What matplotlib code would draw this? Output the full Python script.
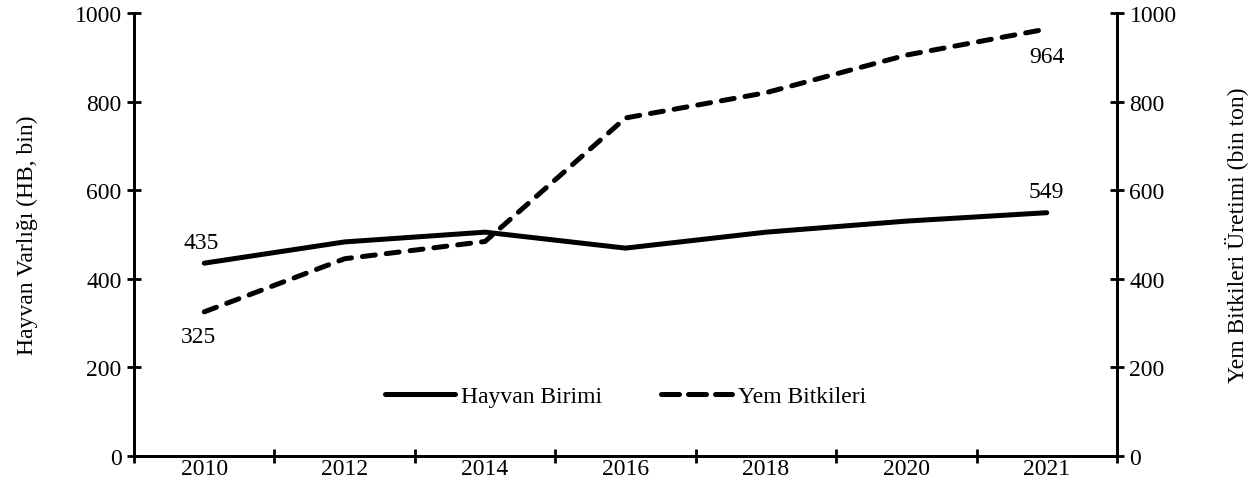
import matplotlib
matplotlib.use("Agg")
import matplotlib.pyplot as plt
from matplotlib.lines import Line2D

years = ["2010", "2012", "2014", "2016", "2018", "2020", "2021"]
hayvan = [435, 483, 505, 469, 505, 530, 549]
yem = [325, 445, 484, 763, 820, 905, 964]
yticks = [0, 200, 400, 600, 800, 1000]

plt.rcParams['font.family'] = ['Liberation Serif', 'DejaVu Serif']
fs = 17

fig = plt.figure(figsize=(12.54, 5.02), dpi=100)
ax = fig.add_axes([0.1069, 0.0902, 0.8907 - 0.1069, 0.972 - 0.0902])
ax2 = ax.twinx()

x = list(range(len(years)))
lw = 3.6
l1, = ax.plot(x, hayvan, color='black', lw=lw, solid_capstyle='round', solid_joinstyle='round', label='Hayvan Birimi')
l2, = ax2.plot(x, yem, color='black', lw=lw, linestyle=(0, (2.6, 2.2)), dash_capstyle='round', dash_joinstyle='round', label='Yem Bitkileri')

for a in (ax, ax2):
    a.set_ylim(0, 1000)
    a.set_yticks(yticks)
    a.tick_params(axis='y', direction='inout', length=10, width=2, labelsize=fs, pad=4)
    a.set_xlim(-0.5, len(years) - 0.5)
    for s in a.spines.values():
        s.set_linewidth(2)
    a.spines['top'].set_visible(False)

ax.set_xticks([i - 0.5 for i in range(len(years) + 1)])
ax.set_xticklabels([])
ax.set_xticks(x, minor=True)
ax.set_xticklabels(years, minor=True)
ax.tick_params(axis='x', which='major', direction='inout', length=10, width=2)
ax.tick_params(axis='x', which='minor', length=0, labelsize=fs, pad=2)

ax.set_ylabel("Hayvan Varlığı (HB, bin)", fontsize=fs, labelpad=26)
ax2.set_ylabel("Yem Bitkileri Üretimi (bin ton)", fontsize=fs, labelpad=34, rotation=90)

ax.annotate(str(hayvan[0]), (x[0], hayvan[0]), xytext=(-2, 7), textcoords='offset points', ha='center', va='bottom', fontsize=fs)
ax2.annotate(str(yem[0]), (x[0], yem[0]), xytext=(-4, -10), textcoords='offset points', ha='center', va='top', fontsize=fs)
ax.annotate(str(hayvan[-1]), (x[-1], hayvan[-1]), xytext=(0, 8), textcoords='offset points', ha='center', va='bottom', fontsize=fs)
ax2.annotate(str(yem[-1]), (x[-1], yem[-1]), xytext=(0, -12), textcoords='offset points', ha='center', va='top', fontsize=fs)

h1 = Line2D([], [], color='black', lw=lw, solid_capstyle='round')
h2 = Line2D([], [], color='black', lw=lw, linestyle=(0, (3.6, 1.8)), dash_capstyle='round')
leg = ax.legend(handles=[h1, h2], labels=['Hayvan Birimi', 'Yem Bitkileri'], loc='lower center',
                bbox_to_anchor=(0.5, 0.062), ncol=2, frameon=False,
                fontsize=fs, handlelength=3.0, handletextpad=0.25, columnspacing=2.5)

fig.savefig("out.png", dpi=100)
